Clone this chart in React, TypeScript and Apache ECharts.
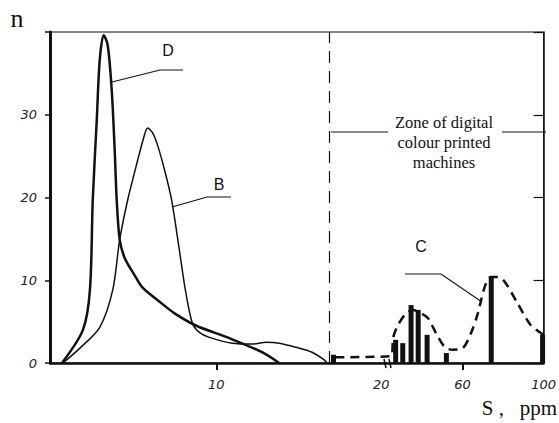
import React, { useEffect, useRef } from "react";
import * as echarts from "echarts";

// Curve D (thick, sharp peak)
const dS = [0.72, 1.98, 2.4, 2.57, 2.81, 2.99, 3.23, 3.47, 3.71, 3.89, 4.01, 4.19, 4.49, 5.09, 5.57, 6.59, 7.49, 8.8, 10.78, 12.75, 13.77];
const dN = [0, 4.0, 8.8, 19.7, 29.3, 36.6, 39.6, 38.4, 33.0, 25.7, 19.7, 14.9, 12.7, 10.6, 9.1, 7.4, 6.0, 4.5, 3.0, 1.3, 0];

// Curve B (thin)
const bS = [0.78, 1.8, 2.99, 3.77, 4.19, 4.67, 5.27, 5.63, 5.87, 6.17, 6.47, 6.89, 7.31, 7.78, 8.14, 8.56, 8.98, 9.58, 10.96, 12.16, 12.99, 13.77, 14.79, 15.75, 16.47, 16.65];
const bN = [0, 1.8, 4.3, 8.8, 14.9, 19.7, 24.5, 27.2, 28.4, 27.8, 26.3, 23.3, 19.7, 13.6, 8.8, 4.8, 3.7, 3.1, 2.4, 2.3, 2.5, 2.4, 1.9, 1.3, 0.4, 0];

// Curve C (dashed)
const cS = [17.17, 24.9, 25.9, 28.3, 32.3, 35.7, 39.6, 43.1, 47.0, 51.4, 55.3, 60.2, 64.2, 67.6, 71.0, 74.0, 77.4, 80.9, 87.2, 93.6, 100];
const cN = [0.7, 0.85, 3.1, 4.6, 6.0, 6.4, 6.0, 5.4, 3.6, 1.9, 1.6, 1.8, 3.6, 6.0, 9.2, 10.4, 10.4, 9.8, 7.2, 4.6, 3.4];

// Bars of zone C
const barS = [17.05, 27.1, 30.6, 34.7, 38.2, 42.6, 52.1, 74.2, 99.5];
const barN = [1.0, 2.8, 2.4, 7.0, 6.4, 3.4, 1.2, 10.4, 3.4];

// Axis ticks
const xTicks = [10, 20, 60, 100];
const xTickMarks = [10, 60];
const zoneStart = 16.8;

// broken S scale: linear 0..16.8, compressed 16.8..20, linear 20..100
const BREAK_A = 16.8;
const BREAK_B = 20;
function toV(s: number): number {
  if (s <= BREAK_A) return s * 16.7;
  if (s <= BREAK_B) return BREAK_A * 16.7 + ((s - BREAK_A) * 52) / (BREAK_B - BREAK_A);
  return BREAK_A * 16.7 + 52 + (s - BREAK_B) * 2.0375;
}

const ink = "#111";

export default function App() {
  const ref = useRef<HTMLDivElement>(null);
  useEffect(() => {
    document.body.style.margin = "0";
    const chart = echarts.init(ref.current!, null, { renderer: "svg" });
    const pairs = (xs: number[], ys: number[]) => xs.map((s, i) => [toV(s), ys[i]]);
    const serif = "Liberation Serif";
    const sans = "Liberation Sans";
    const line = (pts: number[][], w = 1.2) => ({
      type: "polyline",
      shape: { points: pts },
      style: { stroke: ink, lineWidth: w, fill: null },
      silent: true,
    });
    const txt = (x: number, y: number, text: string, fontSize: number, fontFamily: string, align = "center", extra: any = {}) => ({
      type: "text",
      x,
      y,
      style: { text, fontSize, fontFamily, fill: ink, align, verticalAlign: "middle", ...extra },
      silent: true,
    });
    chart.setOption({
      animation: false,
      backgroundColor: "#fff",
      grid: { left: 50, top: 32, width: 496, height: 331, show: true, borderColor: ink, borderWidth: 1, backgroundColor: "transparent" },
      xAxis: {
        type: "value",
        min: 0,
        max: toV(100),
        axisLine: { show: true, lineStyle: { color: ink, width: 2.5 } },
        axisTick: { show: true, customValues: xTickMarks.map(toV), length: 7, lineStyle: { color: ink, width: 2 } },
        axisLabel: {
          customValues: xTicks.map(toV),
          formatter: (v: number) => {
            const t = xTicks.find((k) => Math.abs(toV(k) - v) < 0.5);
            return t === undefined ? "" : String(t);
          },
          fontStyle: "italic",
          fontSize: 13,
          fontFamily: "DejaVu Sans",
          color: "#222",
          margin: 15,
          showMaxLabel: true,
        },
        splitLine: { show: false },
      },
      yAxis: [
        {
          type: "value",
          min: 0,
          max: 40,
          interval: 10,
          axisLine: { show: true, lineStyle: { color: ink, width: 3 } },
          axisTick: { show: true, length: 5, lineStyle: { color: ink, width: 1.5 } },
          axisLabel: {
            formatter: (v: number) => (v === 40 ? "" : String(v)),
            fontStyle: "italic",
            fontSize: 13,
            fontFamily: "DejaVu Sans",
            color: "#222",
            margin: 13,
          },
          splitLine: { show: false },
        },
        {
          type: "value",
          position: "right",
          min: 0,
          max: 40,
          interval: 10,
          axisLine: { show: true, lineStyle: { color: ink, width: 1.5 } },
          axisTick: { show: true, inside: true, length: 10, lineStyle: { color: ink, width: 1.2 } },
          axisLabel: { show: false },
          splitLine: { show: false },
        },
      ],
      series: [
        {
          name: "D",
          type: "line",
          data: pairs(dS, dN),
          smooth: 0.3,
          symbol: "none",
          lineStyle: { color: ink, width: 2.5 },
        },
        {
          name: "B",
          type: "line",
          data: pairs(bS, bN),
          smooth: 0.3,
          symbol: "none",
          lineStyle: { color: ink, width: 1.5 },
        },
        {
          name: "C",
          type: "line",
          data: pairs(cS, cN),
          smooth: 0.3,
          symbol: "none",
          lineStyle: { color: ink, width: 2.5, type: [9, 6] },
          markLine: {
            silent: true,
            symbol: "none",
            label: { show: false },
            lineStyle: { color: ink, width: 1.2, type: [12, 8] },
            data: [{ xAxis: toV(zoneStart) }],
          },
        },
        {
          name: "bars",
          type: "bar",
          data: pairs(barS, barN),
          barWidth: 5,
          itemStyle: { color: ink },
        },
      ],
      graphic: [
        txt(17, 18, "n", 26, serif),
        // zone label
        line([[331, 132], [388, 132]], 1),
        line([[502, 132], [546, 132]], 1),
        txt(444, 142, "Zone of digital\ncolour printed\nmachines", 16.5, serif, "center", { lineHeight: 20 }),
        // D
        line([[112, 82], [160, 70], [183, 70]], 1.2),
        txt(168, 50, "D", 16, sans),
        // B
        line([[172, 207], [207, 197], [231, 197]], 1.2),
        txt(219, 184, "B", 16, sans),
        // C
        line([[405, 274], [441, 274], [482, 302]], 1.2),
        txt(421, 246, "C", 16, sans),
        // axis title
        txt(557, 408, "S ,   ppm", 21, serif, "right"),
        // break marks
        line([[384, 359], [386, 368]], 1.5),
        line([[389, 359], [391, 368]], 1.5),
      ],
    });
    return () => chart.dispose();
  }, []);
  return <div ref={ref} style={{ width: 559, height: 423 }} />;
}
